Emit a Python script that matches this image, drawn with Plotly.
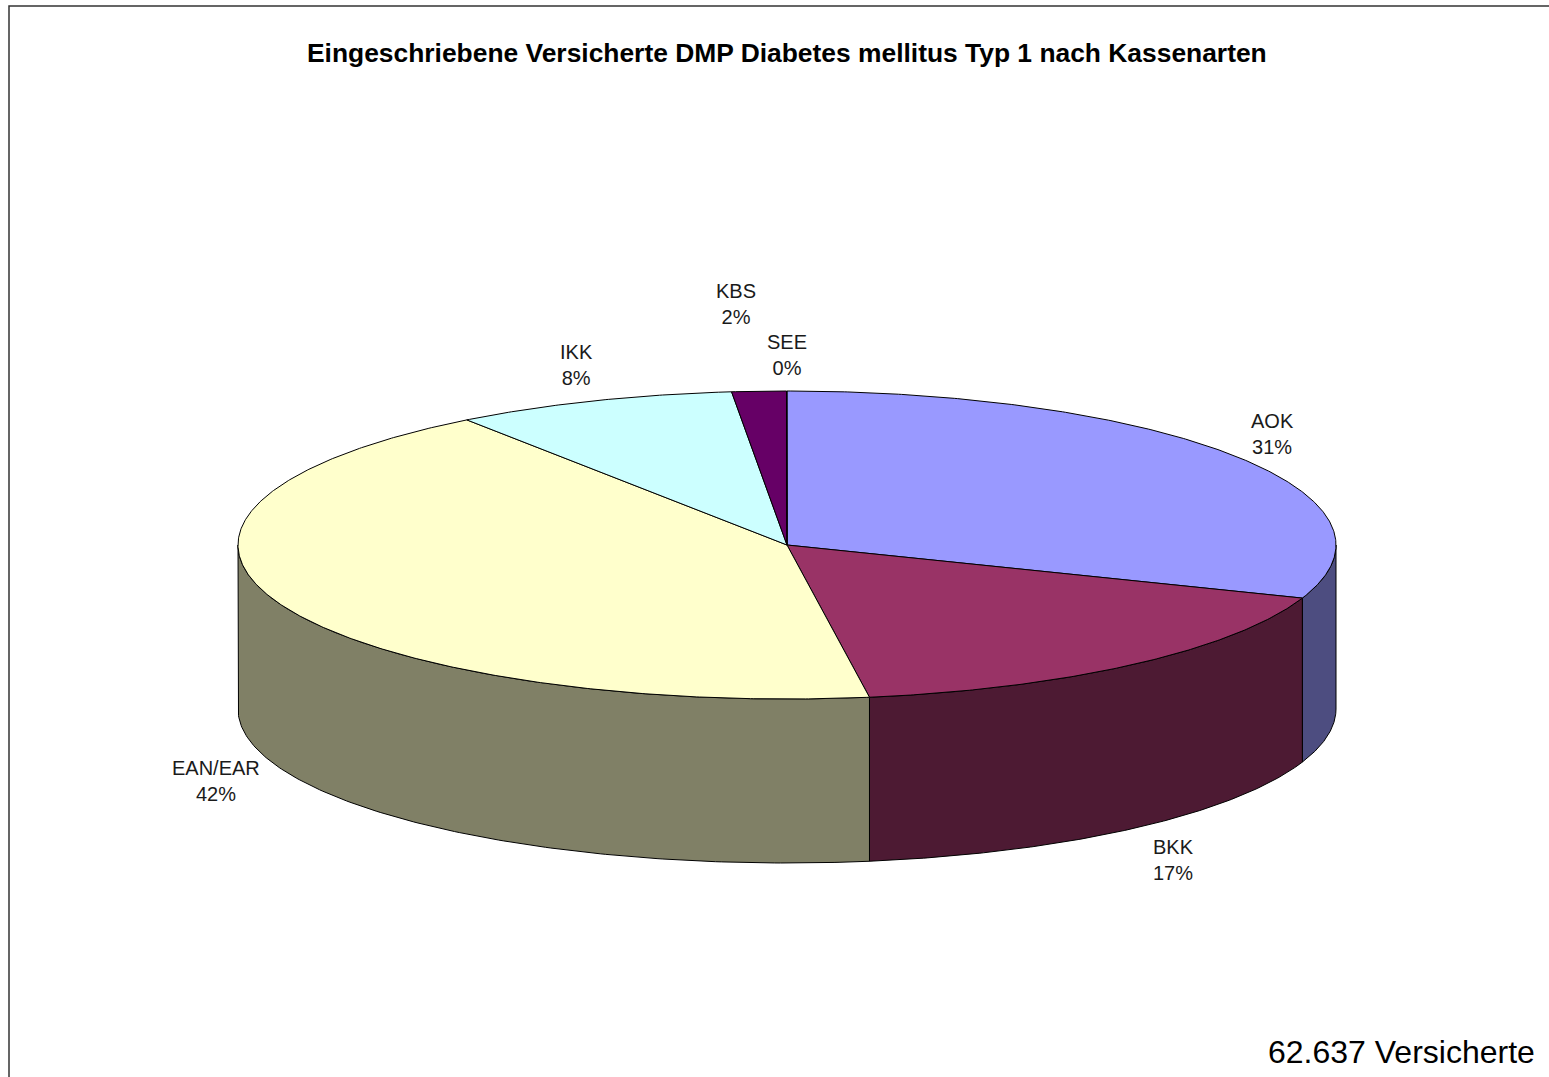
import numpy as np
import plotly.graph_objects as go

# Data
categories = ["AOK", "BKK", "EAN/EAR", "IKK", "KBS", "SEE"]
shares = [30.6, 17.0, 42.49, 8.3, 1.6, 0.01]
title_text = "Eingeschriebene Versicherte DMP Diabetes mellitus Typ 1 nach Kassenarten"
total_text = "62.637 Versicherte"

# Style
top_colors = ["#9999FF", "#993366", "#FFFFCC", "#CCFFFF", "#660066", "#CCCCFF"]
wall_colors = ["#4D4D80", "#4D1A33", "#808066", "#668080", "#330033", "#666680"]
label_anchors = [(1272, 434), (1173, 860), (216, 781), (576, 365), (736, 304), (787, 355)]

# Page-pixel geometry of the tilted pie
W, H = 1549, 1077
CX, CY, RX, RY, DEPTH = 787, 545, 549, 154, 164


def rim(t):
    """Point on the top ellipse; t is degrees clockwise from 12 o'clock."""
    r = np.radians(t)
    return CX + RX * np.sin(r), CY - RY * np.cos(r)


fig = go.Figure()
edges = np.cumsum([0] + shares) / sum(shares) * 360


def add_poly(x, y, color, name):
    fig.add_trace(go.Scatter(
        x=x, y=y, mode="lines", fill="toself", fillcolor=color,
        line=dict(color="#000000", width=1), name=name,
        hoverinfo="name", showlegend=False))


# Visible outer walls: the front half of the rim, from 3 to 9 o'clock
for name, a, b, col in zip(categories, edges[:-1], edges[1:], wall_colors):
    lo, hi = max(a, 90), min(b, 270)
    if hi <= lo:
        continue
    t = np.linspace(lo, hi, 160)
    x, y = rim(t)
    add_poly(np.r_[x, x[::-1], x[0]], np.r_[y, y[::-1] + DEPTH, y[0]], col, name)

# Top faces
for name, a, b, col in zip(categories, edges[:-1], edges[1:], top_colors):
    t = np.linspace(a, b, max(2, int(b - a) * 3))
    x, y = rim(t)
    add_poly(np.r_[CX, x, CX], np.r_[CY, y, CY], col, name)

# Category labels with rounded percentages
annotations = [
    dict(x=px, y=py, xref="x", yref="y", showarrow=False, align="center",
         text=f"{name}<br>{share:.0f}%",
         font=dict(family="Liberation Sans, Arial, sans-serif", size=20, color="#1a1a1a"))
    for name, share, (px, py) in zip(categories, shares, label_anchors)
]
annotations.append(dict(
    x=787, y=53, xref="x", yref="y", showarrow=False, text=f"<b>{title_text}</b>",
    font=dict(family="Liberation Sans, Arial, sans-serif", size=26.4, color="#000000")))
annotations.append(dict(
    x=1537, y=1052, xref="x", yref="y", showarrow=False, xanchor="right",
    text=total_text,
    font=dict(family="Liberation Sans, Arial, sans-serif", size=32, color="#000000")))

fig.update_layout(
    width=W, height=H, margin=dict(l=0, r=0, t=0, b=0),
    paper_bgcolor="#FFFFFF", plot_bgcolor="#FFFFFF",
    showlegend=False, annotations=annotations,
    xaxis=dict(range=[0, W], visible=False, fixedrange=True),
    yaxis=dict(range=[H, 0], visible=False, fixedrange=True),
    shapes=[dict(type="rect", xref="x", yref="y", x0=9, y0=6, x1=W + 20, y1=H + 20,
                 line=dict(color="#333333", width=1.5), layer="below")],
)
fig.write_html(
    "out.html",
    config={"displayModeBar": False, "responsive": False},
    post_script="document.body.style.margin='0';document.body.style.overflow='hidden';",
)
